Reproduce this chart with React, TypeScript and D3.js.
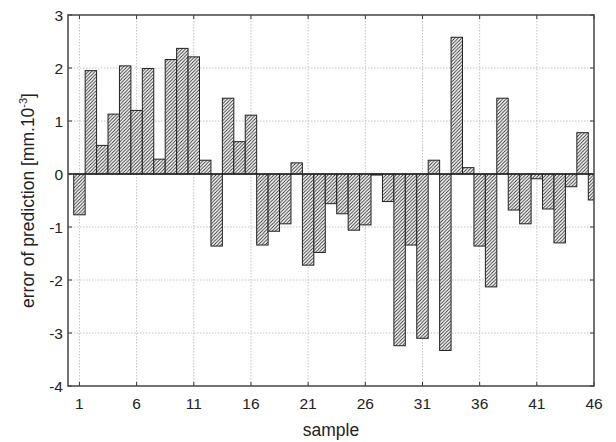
import React from "react";
import * as d3 from "d3";

// Prediction error for each sample, in mm·10^-3
const samples: number[] = d3.range(1, 47);
const errors: number[] = [
  -0.77, 1.95, 0.54, 1.13, 2.04, 1.2, 1.99, 0.28, 2.16, 2.37, 2.21, 0.26,
  -1.36, 1.43, 0.61, 1.11, -1.34, -1.08, -0.94, 0.21, -1.72, -1.48, -0.56,
  -0.75, -1.06, -0.96, -0.02, -0.52, -3.24, -1.34, -3.1, 0.26, -3.33, 2.58,
  0.12, -1.36, -2.13, 1.43, -0.68, -0.94, -0.09, -0.66, -1.3, -0.24, 0.78,
  -0.49,
];
const xTicks: number[] = [1, 6, 11, 16, 21, 26, 31, 36, 41, 46];
const yTicks: number[] = [-4, -3, -2, -1, 0, 1, 2, 3];

const W = 616;
const H = 442;
const plot = { left: 68, right: 594, top: 15, bottom: 386 };
const FONT = "'Liberation Sans', Arial, sans-serif";
const HS = 3.4; // hatch spacing

export default function App() {
  const x = d3.scaleLinear().domain([0, 46]).range([plot.left, plot.right]);
  const y = d3.scaleLinear().domain([-4, 3]).range([plot.bottom, plot.top]);
  const tick = 4;

  return (
    <svg
      width={W}
      height={H}
      style={{ position: "absolute", left: 0, top: 0, background: "#fff" }}
      fontFamily={FONT}
    >
      <defs>
        <pattern id="hatch" patternUnits="userSpaceOnUse" width={HS} height={HS}>
          <rect width={HS} height={HS} fill="#fff" />
          <path
            d={`M-1,1 l2,-2 M0,${HS} l${HS},-${HS} M${HS - 1},${HS + 1} l2,-2`}
            stroke="#2a2a2a"
            strokeWidth={0.9}
          />
        </pattern>
        <clipPath id="plotClip">
          <rect
            x={plot.left}
            y={plot.top}
            width={plot.right - plot.left}
            height={plot.bottom - plot.top}
          />
        </clipPath>
      </defs>

      {/* grid */}
      <g stroke="#c4c4c4" strokeWidth={1} strokeDasharray="1.5,1.5">
        {xTicks
          .filter((t) => t !== 46)
          .map((t) => (
            <line key={"gx" + t} x1={x(t)} x2={x(t)} y1={plot.top} y2={plot.bottom} />
          ))}
        {yTicks
          .filter((t) => t !== -4 && t !== 3 && t !== 0)
          .map((t) => (
            <line key={"gy" + t} x1={plot.left} x2={plot.right} y1={y(t)} y2={y(t)} />
          ))}
      </g>

      {/* bars */}
      <g clipPath="url(#plotClip)">
        {errors.map((v, i) => {
          const s = samples[i];
          const x0 = x(s - 0.5);
          const x1 = x(s + 0.5);
          const y0 = y(Math.max(0, v));
          const y1 = y(Math.min(0, v));
          return (
            <rect
              key={s}
              x={x0}
              y={y0}
              width={x1 - x0}
              height={Math.max(0.5, y1 - y0)}
              fill="url(#hatch)"
              stroke="#222"
              strokeWidth={1}
            />
          );
        })}
        <line
          x1={plot.left}
          x2={plot.right}
          y1={y(0)}
          y2={y(0)}
          stroke="#222"
          strokeWidth={1.3}
        />
      </g>

      {/* ticks (inward, all sides) */}
      <g stroke="#333" strokeWidth={1}>
        {xTicks.map((t) => (
          <g key={"tx" + t}>
            <line x1={x(t)} x2={x(t)} y1={plot.bottom} y2={plot.bottom - tick} />
            <line x1={x(t)} x2={x(t)} y1={plot.top} y2={plot.top + tick} />
          </g>
        ))}
        {yTicks.map((t) => (
          <g key={"ty" + t}>
            <line x1={plot.left} x2={plot.left + tick} y1={y(t)} y2={y(t)} />
            <line x1={plot.right} x2={plot.right - tick} y1={y(t)} y2={y(t)} />
          </g>
        ))}
      </g>

      {/* frame */}
      <rect
        x={plot.left}
        y={plot.top}
        width={plot.right - plot.left}
        height={plot.bottom - plot.top}
        fill="none"
        stroke="#444"
        strokeWidth={1.5}
      />

      {/* tick labels */}
      <g fontSize={15.5} fill="#222">
        {xTicks.map((t) => (
          <text key={"lx" + t} x={x(t)} y={409} textAnchor="middle">
            {t}
          </text>
        ))}
        {yTicks.map((t) => (
          <text
            key={"ly" + t}
            x={plot.left - 5}
            y={y(t)}
            dy="0.36em"
            textAnchor="end"
          >
            {t}
          </text>
        ))}
      </g>

      {/* axis titles */}
      <text
        x={(plot.left + plot.right) / 2}
        y={436}
        textAnchor="middle"
        fontSize={17.5}
        fill="#222"
      >
        sample
      </text>
      <text
        transform={`translate(34, ${(plot.top + plot.bottom) / 2}) rotate(-90)`}
        textAnchor="middle"
        fontSize={17.5}
        fill="#222"
      >
        error of prediction [mm.10
        <tspan fontSize={11} dy={-7}>
          -3
        </tspan>
        <tspan dy={7}>]</tspan>
      </text>
    </svg>
  );
}
